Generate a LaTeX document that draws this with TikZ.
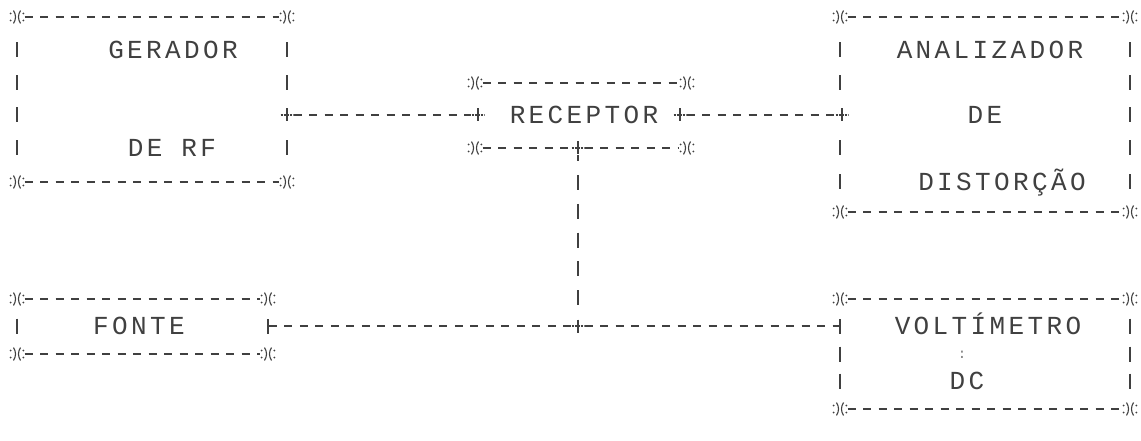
\documentclass[tikz,border=0pt]{standalone}
\usepackage{fontspec}
\newfontfamily\dotmatrix[LetterSpace=13]{Liberation Mono}
\definecolor{ink}{gray}{0.25}
\tikzset{
  txt/.style={font=\dotmatrix\fontsize{26}{26}\selectfont, text=ink, inner sep=0pt, anchor=base},
  smalltxt/.style={font=\dotmatrix\fontsize{14}{14}\selectfont, text=ink!70, inner sep=0pt, anchor=base},
  hline/.style={draw=ink, line width=1.1pt, dash pattern=on 8pt off 7.5pt},
  vline/.style={draw=ink, line width=1.3pt, dash pattern=on 15pt off 13.75pt, dash phase=8.75pt, shorten >=2pt},
  vbar/.style={draw=ink, line width=1.3pt},
  corner/.style={inner sep=0pt, minimum width=15pt, minimum height=16pt,
    path picture={\begin{scope}[shift={(path picture bounding box.center)}]
      \draw[ink, line width=1.1pt] (-3.5,-6.5) .. controls (-0.8,-2) and (-0.8,2) .. (-3.5,6.5);
      \draw[ink, line width=1.1pt] (3.5,-6.5) .. controls (0.8,-2) and (0.8,2) .. (3.5,6.5);
      \fill[ink] (-6.3,-3.5) circle (1) (-6.3,3.5) circle (1) (6.3,-3.5) circle (1) (6.3,3.5) circle (1);
    \end{scope}}},
  plusnode/.style={inner sep=0pt, minimum width=13pt, minimum height=14pt,
    path picture={\begin{scope}[shift={(path picture bounding box.center)}]
      \draw[ink, line width=1.3pt] (0,-6.5) -- (0,6.5);
      \draw[ink, line width=1.1pt, dash pattern=on 2pt off 1pt] (-6.5,0) -- (6.5,0);
    \end{scope}}},
  barnode/.style={inner sep=0pt, minimum width=1.3pt, minimum height=15pt, fill=ink},
}
\begin{document}
\begin{tikzpicture}[x=1pt,y=-1pt]
\useasboundingbox[fill=white] (0,0) rectangle (1141,441);

% ---------- GERADOR DE RF ----------
\node[corner] (g-tl) at (17,17) {};
\node[corner] (g-tr) at (287,17) {};
\node[corner] (g-bl) at (17,182) {};
\node[corner] (g-br) at (287,182) {};
\draw[hline] (g-tl) -- (g-tr);
\draw[hline] (g-bl) -- (g-br);
\foreach \y in {50,83,115,148} \draw[vbar] (17,\y-7.5) -- (17,\y+7.5);
\foreach \y in {50,83,148} \draw[vbar] (287,\y-7.5) -- (287,\y+7.5);
\node[plusnode] (g-out) at (287,115) {};
\node[txt] (g-t1) at (173,58.5) {GERADOR};
\node[txt] (g-t2) at (172,156.5) {DE RF};

% ---------- RECEPTOR ----------
\node[corner] (r-tl) at (475,83) {};
\node[corner] (r-tr) at (687,83) {};
\node[corner] (r-bl) at (475,148) {};
\node[corner] (r-br) at (687,148) {};
\node[plusnode] (r-in) at (478,115) {};
\node[plusnode] (r-out) at (680,115) {};
\node[plusnode] (r-down) at (578,148) {};
\draw[hline] (r-tl) -- (r-tr);
\draw[hline] (r-bl) -- (r-down);
\draw[hline] (r-down) -- (r-br);
\node[txt] (r-t) at (584,123.5) {RECEPTOR};

% ---------- ANALIZADOR DE DISTORCAO ----------
\node[corner] (a-tl) at (840,17) {};
\node[corner] (a-tr) at (1130,17) {};
\node[corner] (a-bl) at (840,212) {};
\node[corner] (a-br) at (1130,212) {};
\draw[hline] (a-tl) -- (a-tr);
\draw[hline] (a-bl) -- (a-br);
\foreach \y in {50,83,148,182} \draw[vbar] (840,\y-7.5) -- (840,\y+7.5);
\foreach \y in {50,83,115,148,182} \draw[vbar] (1130,\y-7.5) -- (1130,\y+7.5);
\node[plusnode] (a-in) at (842,115) {};
\node[txt] (a-t1) at (990,58.5) {ANALIZADOR};
\node[txt] (a-t2) at (985,123.5) {DE};
\node[txt] (a-t3) at (1002,190.5) {DISTORÇÃO};

% ---------- FONTE ----------
\node[corner] (f-tl) at (17,299) {};
\node[corner] (f-tr) at (268,299) {};
\node[corner] (f-bl) at (17,354) {};
\node[corner] (f-br) at (268,354) {};
\draw[hline] (f-tl) -- (f-tr);
\draw[hline] (f-bl) -- (f-br);
\draw[vbar] (17,318.5) -- (17,333.5);
\node[barnode] (f-out) at (268,326) {};
\node[txt] (f-t) at (139,334.5) {FONTE};

% ---------- VOLTIMETRO DC ----------
\node[corner] (v-tl) at (840,299) {};
\node[corner] (v-tr) at (1130,299) {};
\node[corner] (v-bl) at (840,409) {};
\node[corner] (v-br) at (1130,409) {};
\draw[hline] (v-tl) -- (v-tr);
\draw[hline] (v-bl) -- (v-br);
\node[barnode] (v-in) at (840,326) {};
\foreach \y in {354,381} \draw[vbar] (840,\y-7.5) -- (840,\y+7.5);
\foreach \y in {326,354,381} \draw[vbar] (1130,\y-7.5) -- (1130,\y+7.5);
\node[txt] (v-t1) at (988,334.5) {VOLTÍMETRO};
\node[smalltxt] (v-t2) at (962,358) {:};
\node[txt] (v-t3) at (967,389.5) {DC};

% ---------- connectors ----------
\node[plusnode] (j) at (578,326) {};
\draw[hline] (g-out) -- (r-in);
\draw[hline] (r-out) -- (a-in);
\draw[vline] (r-down) -- (j);
\draw[hline] (f-out) -- (j);
\draw[hline] (j) -- (v-in);
\end{tikzpicture}
\end{document}
